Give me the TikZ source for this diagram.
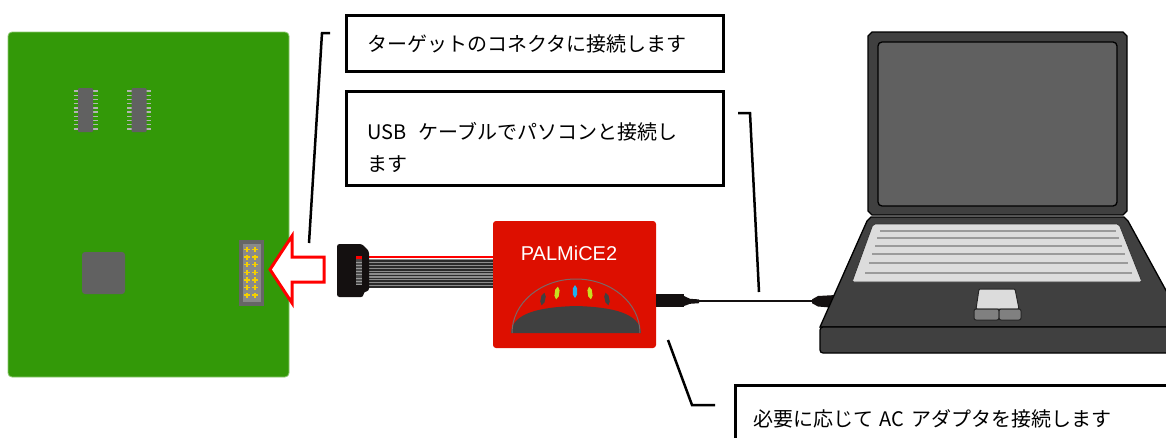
\documentclass[tikz,border=0pt]{standalone}
\usepackage{fontspec}
\newfontfamily\jpfont[WordSpace=1.5]{Noto Sans CJK JP}
\newfontfamily\arialfont{Liberation Sans}

\definecolor{boardgreen}{HTML}{339908}
\definecolor{boardedge}{HTML}{8CC870}
\definecolor{chipgrey}{HTML}{616161}
\definecolor{pingrey}{HTML}{B4B4B4}
\definecolor{hdrouter}{HTML}{666666}
\definecolor{hdrinner}{HTML}{8A8A8A}
\definecolor{hdrpin}{HTML}{F5D000}
\definecolor{icered}{HTML}{DD0F00}
\definecolor{domedark}{HTML}{404040}
\definecolor{domeline}{HTML}{7A6868}
\definecolor{ledoff}{HTML}{404040}
\definecolor{ledyellow}{HTML}{C8E020}
\definecolor{ledcyan}{HTML}{20B0F0}
\definecolor{plugblack}{HTML}{141010}
\definecolor{ribbongrey}{HTML}{8C8C8C}
\definecolor{ribbondark}{HTML}{2A2A2A}
\definecolor{lapdark}{HTML}{404040}
\definecolor{lapscreen}{HTML}{606060}
\definecolor{lapkeys}{HTML}{DCDCDC}
\definecolor{lapkeyline}{HTML}{9A9A9A}
\definecolor{lapbutton}{HTML}{808080}

\begin{document}
\begin{tikzpicture}[x=1pt,y=-1pt,
  callout/.style={draw=black, line width=3pt, fill=white, anchor=north west, inner sep=0pt},
  leader/.style={draw=black, line width=2.5pt},
  jptext/.style={font=\jpfont\fontsize{20}{28}\selectfont, anchor=base west, inner sep=0pt, align=left},
  lapline/.style={draw=black, line width=1.3pt},
  chippin/.style={draw=pingrey, line width=1.4pt},
]
\useasboundingbox (0,0) rectangle (1166,437);
\clip (0,0) rectangle (1166,437);

% ---------- target board ----------
\node[fill=boardgreen, draw=boardedge, line width=0.8pt, rounded corners=4pt,
      minimum width=281pt, minimum height=345pt, inner sep=0pt] (board) at (148.5,204.5) {};

% two SOP packages
\foreach \cx in {85.5,139} {
  \foreach \k in {0,...,9} {
    \draw[chippin] ({\cx-12},{91+4.2*\k}) -- ({\cx-7},{91+4.2*\k});
    \draw[chippin] ({\cx+7},{91+4.2*\k}) -- ({\cx+12},{91+4.2*\k});
  }
  \fill[chipgrey, rounded corners=1pt] ({\cx-7.5},88) rectangle ({\cx+7.5},132);
}

% QFP package
\node[fill=chipgrey, rounded corners=3pt, minimum width=43pt, minimum height=42pt, inner sep=0pt] (qfp) at (103.5,273) {};

% debug header
\node[fill=hdrouter, minimum width=25pt, minimum height=66pt, inner sep=0pt] (header) at (251.5,273) {};
\fill[hdrinner] (242.5,244) rectangle (260.5,302);
\foreach \px in {247,255} {
  \foreach \k in {0,...,6} {
    \draw[hdrpin, line width=1.5pt] ({\px-2.6},{249.5+7.6*\k}) -- ({\px+2.6},{249.5+7.6*\k});
    \draw[hdrpin, line width=1.5pt] (\px,{249.5+7.6*\k-2.6}) -- (\px,{249.5+7.6*\k+2.6});
  }
}

% insertion arrow
\draw[red, line width=3pt, fill=white, line join=miter]
  (270,269.5) -- (292,236) -- (292,257) -- (324,257) -- (324,282) -- (292,282) -- (292,303) -- cycle;

% ---------- ribbon cable and plug ----------
\fill[ribbongrey] (366,258.5) rectangle (496,288);
\foreach \k in {0,...,9} {
  \draw[ribbondark, line width=1.7pt] (366,{261+2.9*\k}) -- (496,{261+2.9*\k});
}
\draw[red, line width=2.2pt] (366,257.2) -- (496,257.2);

\path[fill=plugblack, rounded corners=2.5pt]
  (337,244) -- (362,244) -- (369,251) -- (369,291) -- (363.5,292) -- (363.5,297) -- (337,297) -- cycle;
\node[fill=black!70, minimum width=6.5pt, minimum height=29pt, inner sep=0pt] (plugpins) at (358.8,270.5) {};
\fill[red] (355.5,255.5) rectangle (362,258.5);
\foreach \k in {0,...,7} {
  \draw[black!40, line width=0.9pt] (356,{262+3.2*\k}) -- (361.5,{262+3.2*\k});
}

% ---------- PALMiCE2 unit ----------
\node[fill=icered, rounded corners=3pt, minimum width=163pt, minimum height=127pt, inner sep=0pt] (ice) at (574.5,284.5) {};
\node[font=\arialfont\fontsize{20}{24}\selectfont, text=white, inner sep=0pt] (icename) at (569,253) {PALMiCE2};

% status window
\fill[domedark] (511,333) .. controls (512,313) and (540,307) .. (576,306)
                .. controls (612,307) and (640,313) .. (641,333) -- cycle;
\draw[domeline, line width=1pt] (512,333) arc[start angle=180, end angle=360, x radius=64, y radius=54];
\foreach \lx/\ly/\col/\rot in {543/299/ledoff/-12, 557/293/ledyellow/-8, 575/291.5/ledcyan/0, 590/293/ledyellow/8, 607/299/ledoff/12} {
  \fill[\col, rotate around={\rot:(\lx,\ly)}]
    (\lx,{\ly-6.5}) -- ({\lx+2.2},{\ly-3}) -- ({\lx+2.2},{\ly+3}) -- (\lx,{\ly+6.5}) -- ({\lx-2.2},{\ly+3}) -- ({\lx-2.2},{\ly-3}) -- cycle;
}

% ---------- USB cable ----------
\fill[plugblack] (656,294) rectangle (684,307);
\fill[plugblack] (684,296) -- (690,298.8) -- (699,299.4) -- (699,303.2) -- (690,303.8) -- (684,306) -- cycle;
\coordinate (usbL) at (699,301.3);
\coordinate (usbR) at (812,301.3);
\draw[plugblack, line width=2.3pt] (usbL) -- (usbR);
\fill[plugblack] (812,299.4) -- (818,296) -- (836,295) -- (836,308) -- (818,306.5) -- (812,303.2) -- cycle;

% ---------- laptop ----------
% lid
\path[lapline, fill=lapdark]
  (872,32) -- (1123,32) -- (1127,36) -- (1127,211) -- (1123,215) -- (872,215) -- (868,211) -- (868,36) -- cycle;
\node[lapline, fill=lapscreen, rounded corners=4pt, minimum width=239pt, minimum height=164pt, inner sep=0pt] (screen) at (997.5,124) {};
% base
\path[lapline, fill=lapdark]
  (867,221) -- (871,217) -- (1124,217) -- (1128,221) -- (1186,327) -- (820,327) -- cycle;
\path[lapline, fill=lapdark, rounded corners=3pt] (820,327) rectangle (1195,353);
% keyboard
\path[draw=black!80, line width=0.8pt, fill=lapkeys, rounded corners=2pt]
  (873,224) -- (1119,224) -- (1142,282) -- (852,282) -- cycle;
\foreach \ya/\xl/\xr in {231/880/1116, 238/877/1119, 246/875/1122, 254/872/1125, 263/869/1128, 273/865/1132} {
  \draw[lapkeyline, line width=1.5pt] (\xl,\ya) -- (\xr,\ya);
}
% touch pad and buttons
\path[draw=black!85, line width=1pt, fill=lapkeys, rounded corners=1pt]
  (979,289) -- (1015,289) -- (1019,309) -- (976,309) -- cycle;
\path[draw=black!85, line width=1pt, fill=lapbutton, rounded corners=2pt] (974,309) rectangle (999,320);
\path[draw=black!85, line width=1pt, fill=lapbutton, rounded corners=2pt] (999,309) rectangle (1021,320);

% ---------- callouts ----------
\node[callout, minimum width=377pt, minimum height=56pt] (box1) at (344.5,13.5) {};
\node[jptext] (txt1) at (367,51) {ターゲットのコネクタに接続します};

\node[callout, minimum width=377pt, minimum height=94pt] (box2) at (344.5,89.5) {};
\node[jptext] (txt2) at (367,171) {USB\hspace{0.6em}ケーブルでパソコンと接続し\\[4pt]ます};

\node[callout, minimum width=450pt, minimum height=80pt] (box3) at (733.5,383.5) {};
\node[jptext] (txt3) at (753,426) {必要に応じて AC アダプタを接続します};

% leader lines
\coordinate (l1a) at (330,33);
\coordinate (l1b) at (322,33);
\coordinate (l1c) at (309,243);
\draw[leader] (l1a) -- (l1b) -- (l1c);

\coordinate (l2a) at (738,113);
\coordinate (l2b) at (750,113);
\coordinate (l2c) at (759,292);
\draw[leader] (l2a) -- (l2b) -- (l2c);

\coordinate (l3a) at (668,340);
\coordinate (l3b) at (692,405);
\coordinate (l3c) at (715,405);
\draw[leader] (l3a) -- (l3b) -- (l3c);
\end{tikzpicture}
\end{document}
